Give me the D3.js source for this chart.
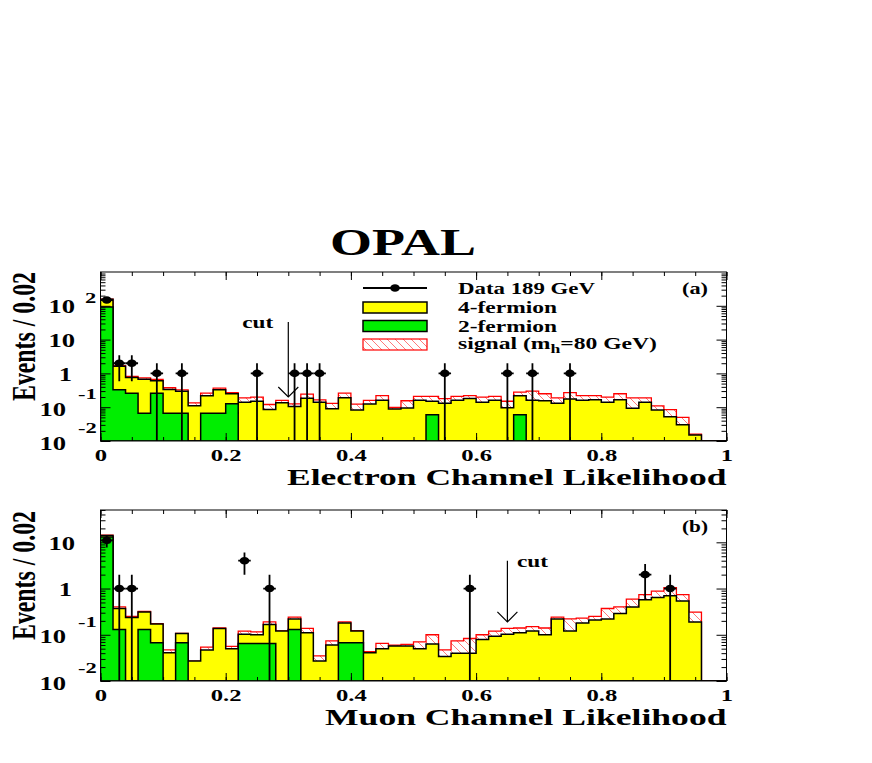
<!DOCTYPE html>
<html><head><meta charset="utf-8">
<script src="https://cdn.jsdelivr.net/npm/d3@7"></script>
<style>body{margin:0;background:#fff}svg{display:block}</style>
</head><body><svg id="c" width="872" height="763"></svg>
<script>
// ---------------- DATA ----------------
const binEdges = d3.range(0, 51).map(i => +(i * 0.02).toFixed(2));

const elecTwoF = [92, 0.33, 0.26, 0.066, 0.26, 0.066, 0.066, 0, 0.066, 0.066,
  0.126, 0, 0, 0, 0, 0, 0, 0, 0, 0,
  0, 0, 0, 0, 0, 0, 0.06, 0, 0, 0,
  0, 0, 0, 0.06, 0, 0, 0, 0, 0, 0,
  0, 0, 0, 0, 0, 0, 0, 0, 0, 0];
const elecFourF = [63, 1.31, 0.49, 0.61, 0.35, 0.27, 0.23, 0.11, 0.154, 0.26,
  0.124, 0.14, 0.15, 0.085, 0.135, 0.105, 0.185, 0.14, 0.09, 0.19,
  0.083, 0.125, 0.16, 0.088, 0.095, 0.16, 0.09, 0.13, 0.16, 0.18,
  0.14, 0.16, 0.096, 0.16, 0.16, 0.155, 0.13, 0.175, 0.16, 0.165,
  0.14, 0.165, 0.093, 0.14, 0.083, 0.052, 0.03, 0.015, 0, 0];
const elecSignal = [1, 0.06, 0.07, 0.06, 0.06, 0.04, 0.03, 0.025, 0.04, 0.04,
  0.02, 0.05, 0.05, 0.035, 0.025, 0.02, 0.06, 0.025, 0.04, 0.07,
  0.04, 0.035, 0.06, 0.01, 0.06, 0.05, 0.06, 0.05, 0.05, 0.04,
  0.06, 0.05, 0.054, 0.06, 0.14, 0.095, 0.06, 0.095, 0.06, 0.055,
  0.06, 0.085, 0.097, 0.05, 0.027, 0.033, 0.02, 0.001, 0, 0];
const elecData = [148, 2, 2, 0, 1, 0, 1, 0, 0, 0,
  0, 0, 1, 0, 0, 1, 1, 1, 0, 0,
  0, 0, 0, 0, 0, 0, 0, 1, 0, 0,
  0, 0, 1, 0, 1, 0, 0, 1, 0, 0,
  0, 0, 0, 0, 0, 0, 0, 0, 0, 0];

const muonTwoF = [13, 0.13, 0, 0.13, 0.067, 0, 0.067, 0, 0, 0,
  0, 0.065, 0.065, 0.065, 0, 0.13, 0, 0, 0, 0.067,
  0.067, 0, 0, 0, 0, 0, 0, 0, 0, 0,
  0, 0, 0, 0, 0, 0, 0, 0, 0, 0,
  0, 0, 0, 0, 0, 0, 0, 0, 0, 0];
const muonFourF = [1, 0.24, 0.235, 0.18, 0.103, 0.041, 0.039, 0.027, 0.047, 0.136,
  0.05, 0.038, 0.035, 0.102, 0.12, 0.09, 0.11, 0.027, 0.06, 0.113,
  0.053, 0.041, 0.05, 0.057, 0.057, 0.05, 0.063, 0.034, 0.04, 0.04,
  0.079, 0.093, 0.103, 0.11, 0.12, 0.1, 0.22, 0.12, 0.18, 0.21,
  0.22, 0.29, 0.4, 0.575, 0.64, 0.7, 0.54, 0.19, 0, 0];
const muonSignal = [0.2, 0.03, 0.015, 0.01, 0.005, 0.006, 0.001, 0, 0.007, 0.004,
  0.006, 0.017, 0.015, 0.023, 0.002, 0.02, 0.027, 0.008, 0.014, 0.01,
  0.003, 0.002, 0.015, 0.003, 0.005, 0.02, 0.037, 0.013, 0.034, 0.043,
  0.021, 0.027, 0.034, 0.03, 0.03, 0.04, 0.02, 0.1, 0.05, 0.04,
  0.15, 0.11, 0.19, 0.165, 0.24, 0.34, 0.2, 0.12, 0, 0];
const muonData = [11, 1, 1, 0, 0, 0, 0, 0, 0, 0,
  0, 4, 0, 1, 0, 0, 0, 0, 0, 0,
  0, 0, 0, 0, 0, 0, 0, 0, 0, 1,
  0, 0, 0, 0, 0, 0, 0, 0, 0, 0,
  0, 0, 0, 2, 0, 1, 0, 0, 0, 0];

const xTickValues = [0, 0.2, 0.4, 0.6, 0.8, 1];
const xTickLabels = ["0", "0.2", "0.4", "0.6", "0.8", "1"];
const yTickValuesTop = [0.01, 0.1, 1, 10, 100];
const yTickBaseTop = ["10", "10", "1", "10", "10"];
const yTickExpTop = ["-2", "-1", "", "", "2"];
const yTickValuesBottom = [0.01, 0.1, 1, 10];
const yTickBaseBottom = ["10", "10", "1", "10"];
const yTickExpBottom = ["-2", "-1", "", ""];
const legendLabels = ["Data 189 GeV", "4-fermion", "2-fermion", "signal (m", "h", "=80 GeV)"];
const electronCut = 0.3, muonCut = 0.65;

// ---------------- DRAWING ----------------
const svg = d3.select("#c");
const FONT = "'Liberation Serif','Times New Roman',serif";
const YELLOW = "#ffff00", GREEN = "#00ee00";

const defs = svg.append("defs");
const pat = defs.append("pattern").attr("id", "hatch").attr("patternUnits", "userSpaceOnUse")
  .attr("width", 8).attr("height", 8);
pat.append("rect").attr("width", 8).attr("height", 8).attr("fill", "#fff");
pat.append("path").attr("d", "M-1,-1 L9,9 M-1,7 L1,9 M7,-1 L9,1")
  .attr("stroke", "#ff4040").attr("stroke-width", 0.7);

function fit(sel, w) { sel.attr("textLength", w).attr("lengthAdjust", "spacingAndGlyphs"); }
function stretch(sel, f) {
  sel.each(function () {
    const L = this.getComputedTextLength();
    d3.select(this).attr("textLength", L * f).attr("lengthAdjust", "spacingAndGlyphs");
  });
}

// Title
const opal = svg.append("text").attr("x", 330).attr("y", 255).attr("font-family", FONT)
  .attr("font-weight", "bold").attr("font-size", 37).text("OPAL");
fit(opal, 146);

function panel(cfg) {
  const { id, top, bottom, ymax, twoF, fourF, signal, data, cut, cutTopV, cutTipV, cutSide,
    yVals, yBase, yExp, xtitle, xtitleX, tag } = cfg;
  const left = 100.5, right = 726.5;
  const x = d3.scaleLinear().domain([0, 1]).range([left, right]);
  const y = d3.scaleLog().domain([0.01, ymax]).range([bottom, top]).clamp(true);
  const g = svg.append("g");

  defs.append("clipPath").attr("id", "clip" + id).append("rect")
    .attr("x", left).attr("y", top).attr("width", right - left).attr("height", bottom - top);

  const rows = twoF.map((d, i) => ({ twoF: d, fourF: fourF[i], signal: signal[i] }));
  const series = d3.stack().keys(["twoF", "fourF", "signal"])(rows);
  const yv = v => y(Math.max(v, 1e-4));
  function stepPath(tops) {
    const pts = [[x(binEdges[0]), bottom]];
    tops.forEach((v, i) => { pts.push([x(binEdges[i]), yv(v)]); pts.push([x(binEdges[i + 1]), yv(v)]); });
    pts.push([x(binEdges[binEdges.length - 1]), bottom]);
    return d3.line()(pts) + "Z";
  }
  const hg = g.append("g").attr("clip-path", `url(#clip${id})`);
  hg.append("path").attr("d", stepPath(series[2].map(d => d[1])))
    .attr("fill", "url(#hatch)").attr("stroke", "#ff0000").attr("stroke-width", 1.3);
  hg.append("path").attr("d", stepPath(series[1].map(d => d[1])))
    .attr("fill", YELLOW).attr("stroke", "#000").attr("stroke-width", 1.5);
  hg.append("path").attr("d", stepPath(series[0].map(d => d[1])))
    .attr("fill", GREEN).attr("stroke", "#000").attr("stroke-width", 1.5);

  // frame
  g.append("rect").attr("x", left).attr("y", top).attr("width", right - left).attr("height", bottom - top)
    .attr("fill", "none").attr("stroke", "#000").attr("stroke-width", 1);

  // ticks
  const minorX = d3.range(0, 21).map(i => +(i * 0.05).toFixed(2));
  const decades = [];
  for (let e = -2; Math.pow(10, e) < ymax; e++) decades.push(Math.pow(10, e));
  const minorY = [];
  decades.forEach(d => { for (let k = 2; k <= 9; k++) if (d * k <= ymax) minorY.push(d * k); });
  const tickStyle = s => { s.select(".domain").remove(); s.selectAll("line").attr("stroke", "#000"); };
  g.append("g").attr("transform", `translate(0,${bottom})`).call(d3.axisBottom(x).tickValues(minorX).tickSize(-4).tickFormat("")).call(tickStyle);
  g.append("g").attr("transform", `translate(0,${bottom})`).call(d3.axisBottom(x).tickValues(xTickValues).tickSize(-8).tickFormat("")).call(tickStyle);
  g.append("g").attr("transform", `translate(0,${top})`).call(d3.axisTop(x).tickValues(minorX).tickSize(-4).tickFormat("")).call(tickStyle);
  g.append("g").attr("transform", `translate(0,${top})`).call(d3.axisTop(x).tickValues(xTickValues).tickSize(-8).tickFormat("")).call(tickStyle);
  g.append("g").attr("transform", `translate(${left},0)`).call(d3.axisLeft(y).tickValues(minorY).tickSize(-5).tickFormat("")).call(tickStyle);
  g.append("g").attr("transform", `translate(${left},0)`).call(d3.axisLeft(y).tickValues(decades).tickSize(-10).tickFormat("")).call(tickStyle);
  g.append("g").attr("transform", `translate(${right},0)`).call(d3.axisRight(y).tickValues(minorY).tickSize(-5).tickFormat("")).call(tickStyle);
  g.append("g").attr("transform", `translate(${right},0)`).call(d3.axisRight(y).tickValues(decades).tickSize(-10).tickFormat("")).call(tickStyle);

  // x tick labels
  const xl = g.append("g").attr("transform", `translate(0,${bottom})`)
    .call(d3.axisBottom(x).tickValues(xTickValues).tickSize(0).tickFormat((d, i) => xTickLabels[i]));
  xl.select(".domain").remove();
  xl.selectAll("text").attr("y", 19.5).attr("dy", 0).attr("font-family", FONT).attr("font-weight", "bold")
    .attr("font-size", 17).attr("fill", "#000").call(stretch, 1.45);

  // y tick labels
  yVals.forEach((v, i) => {
    const ty = y(v), base = yBase[i], exp = yExp[i];
    const t = (xx, yy, s, fs, anchor) => g.append("text").attr("x", xx).attr("y", yy).attr("font-family", FONT)
      .attr("font-weight", "bold").attr("font-size", fs).attr("text-anchor", anchor).text(s);
    if (!exp) {
      stretch(t(base === "1" ? 72 : 75, ty + 7.5, base, 19, "end"), 1.4);
    } else if (exp[0] === "-") {
      stretch(t(66, ty + 8.5, base, 19, "end"), 1.4);
      stretch(t(78, ty - 8, exp, 15, "start"), 1.5);
    } else {
      stretch(t(75, ty + 7, base, 19, "end"), 1.4);
      stretch(t(85, ty - 3, exp, 15, "start"), 1.5);
    }
  });

  // y title
  const yt = g.append("text").attr("transform", `translate(35,${(top + bottom) / 2 - 20}) rotate(-90) scale(1,1.4)`)
    .attr("text-anchor", "middle").attr("font-family", FONT).attr("font-weight", "bold").attr("font-size", 24)
    .text("Events / 0.02");
  fit(yt, 129);

  // x title
  const xt = g.append("text").attr("x", xtitleX).attr("y", bottom + 43.5).attr("font-family", FONT)
    .attr("font-weight", "bold").attr("font-size", 23).text(xtitle);
  fit(xt, right - xtitleX);

  // tag
  fit(g.append("text").attr("x", 682).attr("y", top + 22).attr("font-family", FONT).attr("font-weight", "bold")
    .attr("font-size", 16).text(tag), 26);

  // cut arrow
  const cx = x(cut), cTop = y(cutTopV), cTip = y(cutTipV);
  g.append("line").attr("x1", cx).attr("x2", cx).attr("y1", cTop).attr("y2", cTip).attr("stroke", "#000").attr("stroke-width", 1.2);
  g.append("path").attr("d", `M${cx - 10},${cTip - 10} L${cx},${cTip} L${cx + 10},${cTip - 10}`)
    .attr("fill", "none").attr("stroke", "#000").attr("stroke-width", 1.2);
  const ct = g.append("text").attr("x", cutSide < 0 ? cx - 15 : cx + 9.5).attr("y", cTop + 6)
    .attr("text-anchor", cutSide < 0 ? "end" : "start").attr("font-family", FONT).attr("font-weight", "bold")
    .attr("font-size", 16).text("cut");
  fit(ct, 31);

  // data points
  const dg = g.append("g").attr("clip-path", `url(#clip${id})`);
  data.forEach((n, i) => {
    if (!n) return;
    const xc = x((binEdges[i] + binEdges[i + 1]) / 2), e = Math.sqrt(n);
    dg.append("line").attr("x1", xc).attr("x2", xc).attr("y1", yv(n - e)).attr("y2", yv(n + e))
      .attr("stroke", "#000").attr("stroke-width", 1.8);
    dg.append("line").attr("x1", x(binEdges[i])).attr("x2", x(binEdges[i + 1])).attr("y1", y(n)).attr("y2", y(n))
      .attr("stroke", "#000").attr("stroke-width", 1.8);
    dg.append("ellipse").attr("cx", xc).attr("cy", y(n)).attr("rx", 4.8).attr("ry", 3.8).attr("fill", "#000");
  });
  return g;
}

panel({ id: "a", top: 272, bottom: 441, ymax: 1000, twoF: elecTwoF, fourF: elecFourF, signal: elecSignal,
  data: elecData, cut: electronCut, cutTopV: 33, cutTipV: 0.2, cutSide: -1,
  yVals: yTickValuesTop, yBase: yTickBaseTop, yExp: yTickExpTop,
  xtitle: "Electron Channel Likelihood", xtitleX: 287, tag: "(a)" });
panel({ id: "b", top: 510, bottom: 681, ymax: 50, twoF: muonTwoF, fourF: muonFourF, signal: muonSignal,
  data: muonData, cut: muonCut, cutTopV: 4, cutTipV: 0.19, cutSide: 1,
  yVals: yTickValuesBottom, yBase: yTickBaseBottom, yExp: yTickExpBottom,
  xtitle: "Muon Channel Likelihood", xtitleX: 325, tag: "(b)" });

// legend
const lg = svg.append("g");
lg.append("line").attr("x1", 363).attr("x2", 427).attr("y1", 288).attr("y2", 288).attr("stroke", "#000").attr("stroke-width", 1.8);
lg.append("ellipse").attr("cx", 395).attr("cy", 288).attr("rx", 4.8).attr("ry", 3.8).attr("fill", "#000");
lg.append("rect").attr("x", 363).attr("y", 302).attr("width", 64).attr("height", 11).attr("fill", YELLOW).attr("stroke", "#000").attr("stroke-width", 1.5);
lg.append("rect").attr("x", 363).attr("y", 320.5).attr("width", 64).attr("height", 11).attr("fill", GREEN).attr("stroke", "#000").attr("stroke-width", 1.5);
lg.append("rect").attr("x", 363).attr("y", 339).attr("width", 64).attr("height", 11).attr("fill", "url(#hatch)").attr("stroke", "#ff0000").attr("stroke-width", 1.2);
const lt = (yy, s, w) => fit(lg.append("text").attr("x", 458).attr("y", yy).attr("font-family", FONT)
  .attr("font-weight", "bold").attr("font-size", 16).text(s), w);
lt(294, legendLabels[0], 137);
lt(313, legendLabels[1], 99);
lt(332, legendLabels[2], 99);
const sg = lg.append("text").attr("x", 458).attr("y", 349).attr("font-family", FONT)
  .attr("font-weight", "bold").attr("font-size", 16);
sg.append("tspan").text(legendLabels[3]);
sg.append("tspan").attr("font-size", 12).attr("dy", 4).text(legendLabels[4]);
sg.append("tspan").attr("dy", -4).text(legendLabels[5]);
fit(sg, 199);
</script></body></html>
